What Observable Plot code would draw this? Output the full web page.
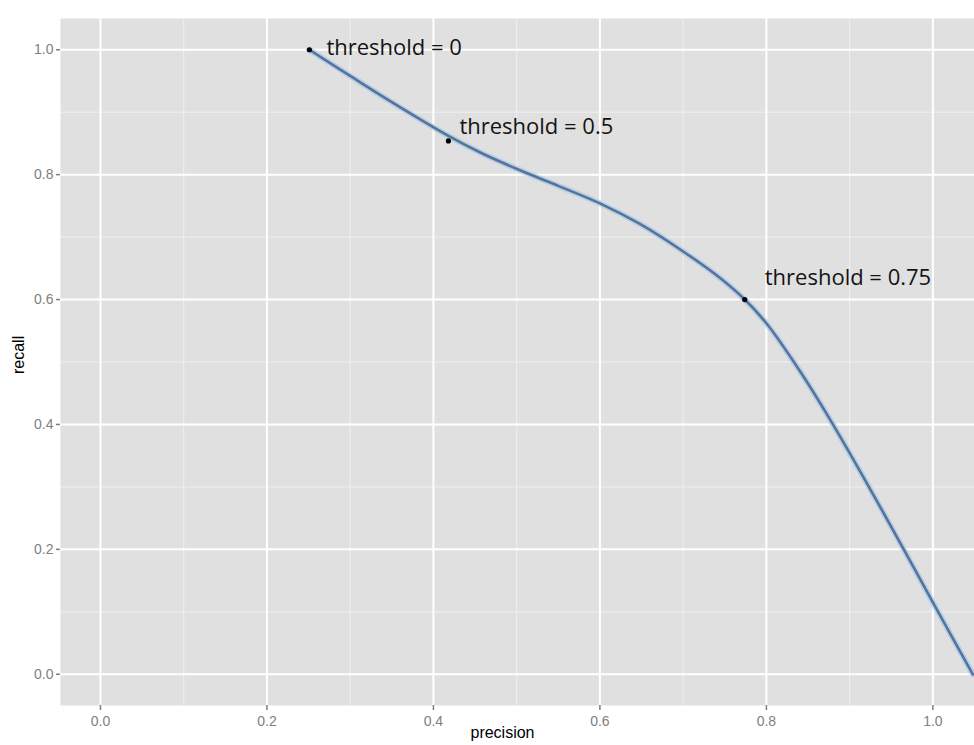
<!DOCTYPE html>
<html>
<head>
<meta charset="utf-8">
<script src="https://cdn.jsdelivr.net/npm/d3@7"></script>
<script src="https://cdn.jsdelivr.net/npm/@observablehq/plot@0.6"></script>
<style>
  html, body { margin: 0; padding: 0; background: #ffffff; }
  #chart svg { display: block; }
</style>
</head>
<body>
<div id="chart"></div>
<script>
// Precision-recall curve
const precision = [0.251, 0.300, 0.350, 0.418, 0.460, 0.504, 0.550, 0.600, 0.648, 0.700, 0.741, 0.774, 0.800, 0.840, 0.876, 0.916, 0.960, 1.000, 1.048];
const recall    = [1.000, 0.958, 0.916, 0.862, 0.833, 0.807, 0.782, 0.754, 0.721, 0.677, 0.638, 0.600, 0.562, 0.486, 0.409, 0.317, 0.212, 0.115, 0.000];

// Annotated thresholds
const thresholdLabels = ["threshold = 0", "threshold = 0.5", "threshold = 0.75"];
const thresholdPrecision = [0.251, 0.418, 0.774];
const thresholdRecall = [1.000, 0.854, 0.600];

// Axis ticks
const majorTicks = [0.0, 0.2, 0.4, 0.6, 0.8, 1.0];
const minorTicks = [0.1, 0.3, 0.5, 0.7, 0.9];
const tickLabels = ["0.0", "0.2", "0.4", "0.6", "0.8", "1.0"];

const curve = precision.map((p, i) => ({precision: p, recall: recall[i]}));
const points = thresholdLabels.map((label, i) => ({label, precision: thresholdPrecision[i], recall: thresholdRecall[i]}));

const labelFont = "'Open Sans', Lato, sans-serif";
const annot = (i, dx, dy) => Plot.text([points[i]], {
  x: "precision", y: "recall", text: "label",
  textAnchor: "start", lineAnchor: "middle", dx, dy,
  fontSize: 22, fontFamily: labelFont, fill: "#141414"
});

const chart = Plot.plot({
  width: 974,
  height: 745,
  marginLeft: 60,
  marginRight: 0,
  marginTop: 18,
  marginBottom: 40,
  style: {fontFamily: "'Liberation Sans', Arial, sans-serif", background: "#ffffff", overflow: "visible"},
  x: {domain: [-0.048, 1.05]},
  y: {domain: [-0.05, 1.05]},
  marks: [
    Plot.frame({fill: "#e0e0e0", stroke: null}),
    Plot.ruleX(minorTicks, {stroke: "#f0f0f0", strokeWidth: 1}),
    Plot.ruleY(minorTicks, {stroke: "#f0f0f0", strokeWidth: 1}),
    Plot.ruleX(majorTicks, {stroke: "#ffffff", strokeWidth: 2}),
    Plot.ruleY(majorTicks, {stroke: "#ffffff", strokeWidth: 2}),
    Plot.axisX({ticks: majorTicks, tickFormat: (d, i) => tickLabels[i], tickSize: 5, tickPadding: 6,
      stroke: "#7f7f7f", strokeWidth: 1.5, fill: "#808080", fontSize: 14, label: null}),
    Plot.axisY({ticks: majorTicks, tickFormat: (d, i) => tickLabels[i], tickSize: 4, tickPadding: 3,
      stroke: "#7f7f7f", strokeWidth: 1.5, fill: "#808080", fontSize: 14, label: null}),
    Plot.text(["recall"], {frameAnchor: "left", dx: -42, dy: 12, rotate: -90, fontSize: 16, fill: "#000"}),
    Plot.text(["precision"], {frameAnchor: "bottom", dy: 32, dx: -15, fontSize: 16, fill: "#000"}),
    Plot.line(curve, {x: "precision", y: "recall", curve: "catmull-rom", stroke: "#aecae6", strokeWidth: 6, strokeOpacity: 0.75}),
    Plot.line(curve, {x: "precision", y: "recall", curve: "catmull-rom", stroke: "#54749b", strokeWidth: 2.6}),
    Plot.dot(points, {x: "precision", y: "recall", r: 2.6, fill: "#000"}),
    annot(0, 17, -2),
    annot(1, 11, -14),
    annot(2, 20, -22)
  ]
});
document.getElementById("chart").appendChild(chart);
</script>
</body>
</html>
